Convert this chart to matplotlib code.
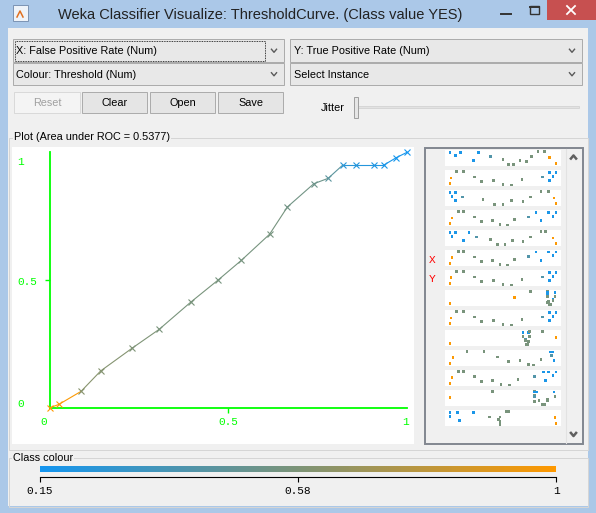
import numpy as np
import matplotlib
matplotlib.use("Agg")
import matplotlib.pyplot as plt
from matplotlib.colors import LinearSegmentedColormap, Normalize
from matplotlib.patches import Rectangle

W, H = 596, 513

# ROC curve points (x = FP rate, y = TP rate), colour = threshold
fpr = [0.0, 0.025, 0.087, 0.142, 0.231, 0.306, 0.394, 0.471, 0.536, 0.615,
       0.665, 0.739, 0.779, 0.820, 0.856, 0.908, 0.935, 0.970, 1.0]
tpr = [0.0, 0.013, 0.064, 0.144, 0.234, 0.307, 0.413, 0.500, 0.577, 0.679,
       0.786, 0.877, 0.898, 0.950, 0.950, 0.950, 0.950, 0.979, 1.0]
threshold = [1.0, 0.99, 0.61, 0.60, 0.58, 0.56, 0.56, 0.55, 0.55, 0.55,
             0.53, 0.51, 0.44, 0.24, 0.22, 0.20, 0.18, 0.16, 0.15]

tick_vals = [0, 0.5, 1]
tick_text = ["0", "0.5", "1"]

cbar_ticks = [0.15, 0.575, 1.0]
cbar_text = ["0.15", "0.58", "1"]

# attribute strips on the right: position along strip (u), jitter (h), colour code
strip_u = [
    [0.00, 0.05, 0.10, 0.22, 0.27, 0.38, 0.50, 0.55, 0.60, 0.66, 0.72, 0.77, 0.83, 0.89, 0.94, 1.00],
    [0.06, 0.13, 0.01, 0.00, 0.23, 0.30, 0.41, 0.50, 0.58, 0.68, 0.87, 0.94, 1.00, 0.97, 0.94],
    [0.00, 0.05, 0.02, 0.05, 0.12, 0.31, 0.42, 0.50, 0.58, 0.69, 0.76, 0.86, 0.93, 0.98, 1.00],
    [0.08, 0.13, 0.02, 0.00, 0.23, 0.30, 0.40, 0.47, 0.54, 0.61, 0.74, 0.81, 0.86, 0.93, 0.97, 1.00],
    [0.00, 0.05, 0.18, 0.02, 0.13, 0.25, 0.38, 0.45, 0.52, 0.59, 0.69, 0.76, 0.86, 0.90, 0.97, 1.00],
    [0.08, 0.13, 0.02, 0.00, 0.23, 0.30, 0.40, 0.47, 0.54, 0.61, 0.74, 0.81, 0.86, 0.93, 0.97, 1.00],
    [0.06, 0.13, 0.01, 0.00, 0.23, 0.30, 0.41, 0.50, 0.58, 0.68, 0.87, 0.94, 1.00, 0.97, 0.94],
    [0.00, 0.61, 0.76, 0.92, 0.92, 0.99, 0.92, 0.99, 0.92, 0.97, 0.97, 0.93, 0.92, 0.94, 0.95],
    [0.06, 0.13, 0.01, 0.00, 0.23, 0.30, 0.41, 0.50, 0.58, 0.68, 0.87, 0.94, 1.00, 0.97, 0.94],
    [0.00, 1.00, 0.69, 0.74, 0.75, 0.87, 0.69, 0.75, 0.71, 0.71, 0.74, 0.73, 0.72],
    [0.16, 0.32, 0.03, 0.00, 0.45, 0.55, 0.66, 0.74, 0.79, 0.86, 0.95, 0.97, 0.96, 0.98],
    [0.08, 0.13, 0.02, 0.00, 0.23, 0.30, 0.40, 0.48, 0.56, 0.64, 0.80, 0.88, 0.90, 0.93, 0.97, 1.00],
    [0.00, 0.40, 0.80, 0.80, 0.82, 0.98, 0.80, 0.80, 0.99, 0.92, 0.84, 0.80, 0.92, 0.87, 0.89],
    [0.00, 0.07, 0.00, 0.09, 0.22, 0.37, 0.47, 0.46, 0.47, 0.47, 0.53, 0.55, 0.99, 1.00],
]
strip_h = [
    [0.12, 0.35, 0.12, 0.67, 0.12, 0.42, 0.60, 0.96, 0.92, 0.69, 0.75, 0.42, 0.04, 0.04, 0.48, 0.85],
    [0.04, 0.04, 0.50, 0.88, 0.44, 0.75, 0.67, 0.94, 0.98, 0.62, 0.44, 0.12, 0.12, 0.38, 0.69],
    [0.12, 0.12, 0.38, 0.69, 0.44, 0.62, 0.96, 0.94, 0.69, 0.75, 0.44, 0.06, 0.06, 0.50, 0.88],
    [0.06, 0.06, 0.50, 0.88, 0.44, 0.75, 0.67, 0.94, 0.98, 0.62, 0.44, 0.12, 0.67, 0.12, 0.38, 0.12],
    [0.12, 0.12, 0.12, 0.38, 0.69, 0.44, 0.62, 0.96, 0.94, 0.69, 0.75, 0.44, 0.06, 0.06, 0.50, 0.88],
    [0.04, 0.04, 0.48, 0.85, 0.44, 0.75, 0.67, 0.94, 0.98, 0.60, 0.42, 0.10, 0.67, 0.10, 0.35, 0.10],
    [0.04, 0.04, 0.48, 0.85, 0.44, 0.75, 0.67, 0.94, 0.98, 0.62, 0.44, 0.12, 0.12, 0.38, 0.69],
    [0.85, 0.48, 0.04, 0.04, 0.12, 0.12, 0.29, 0.42, 0.42, 0.60, 0.67, 0.73, 0.79, 0.92, 0.94],
    [0.04, 0.04, 0.50, 0.88, 0.44, 0.75, 0.67, 0.94, 0.98, 0.62, 0.44, 0.12, 0.12, 0.38, 0.69],
    [0.85, 0.48, 0.12, 0.12, 0.04, 0.04, 0.42, 0.42, 0.60, 0.67, 0.73, 0.92, 0.92],
    [0.04, 0.04, 0.48, 0.85, 0.44, 0.75, 0.67, 0.94, 0.98, 0.62, 0.10, 0.10, 0.35, 0.67],
    [0.04, 0.04, 0.48, 0.85, 0.42, 0.73, 0.67, 0.94, 0.98, 0.60, 0.42, 0.10, 0.67, 0.10, 0.35, 0.10],
    [0.48, 0.04, 0.04, 0.10, 0.10, 0.10, 0.35, 0.42, 0.42, 0.60, 0.67, 0.73, 0.67, 0.92, 0.96],
    [0.12, 0.12, 0.38, 0.69, 0.12, 0.44, 0.44, 0.62, 0.75, 0.94, 0.06, 0.06, 0.48, 0.88],
]
strip_c = [
    "bbbbbtggggggggoo", "ggooggggggtbbbb", "bbbbtggggggggoo", "ggooggggggtbbbbb",
    "bbbbbtggggggggoo", "ggooggggggtbbbbb", "ggooggggggtbbbb", "ooggbbbggbggggg",
    "ggooggggggtbbbb", "oobbggggtgggg", "ggooggggggbbtb", "ggooggggggtbbbbb",
    "oggbbbgtggggggg", "bbbbbgggggggoo",
]
code_level = {"b": 0.18, "t": 0.40, "g": 0.56, "o": 0.99}

cmap = LinearSegmentedColormap.from_list("weka", ["#1496f0", "#7d9478", "#ff9900"])
norm = Normalize(0.15, 1.0)

GUI = "Liberation Sans"
MONO = "Liberation Mono"

fig = plt.figure(figsize=(W / 100, H / 100), dpi=100)


def px_axes(x, y, w, h):
    return fig.add_axes([x / W, 1 - (y + h) / H, w / W, h / H])


bg = px_axes(0, 0, W, H)
bg.set_xlim(0, W)
bg.set_ylim(H, 0)
bg.axis("off")


def box(x0, y0, x1, y1, fc, ec="none", lw=0.72, **kw):
    bg.add_patch(Rectangle((x0, y0), x1 - x0, y1 - y0, facecolor=fc,
                           edgecolor=ec, linewidth=lw, **kw))


def chevron(x, y, down=True, color="#5a5a5a", lw=1.0, s=3):
    d = 1 if down else -1
    bg.plot([x - s, x, x + s], [y - d * s * 0.6, y + d * s * 0.6, y - d * s * 0.6],
            color=color, lw=lw, solid_capstyle="butt")


# window frame and title bar
box(0, 0, W, H, "#abc8e8")
box(8, 28, 588, 506, "#f0f0f0")
box(13, 5, 28, 21, "#eef3f9", "#7d95b5")
bg.plot([17, 20, 23], [17, 11, 17], color="#e07020", lw=1.1)
bg.text(260, 14.5, "Weka Classifier Visualize: ThresholdCurve. (Class value YES)",
        ha="center", va="center", fontsize=10.5, family=GUI, color="#222222")
bg.plot([501, 511], [14, 14], color="#333333", lw=1.4)
box(530, 6, 539, 14, "none", "#333333", lw=1.0)
bg.plot([530, 539], [7, 7], color="#333333", lw=1.4)
box(547, 0, 596, 20, "#c75050")
bg.plot([567, 575], [6, 14], color="white", lw=1.3)
bg.plot([567, 575], [14, 6], color="white", lw=1.3)

# combo boxes
combos = [(13, 39, 284, 62, "X: False Positive Rate (Num)"),
          (290, 39, 582, 62, "Y: True Positive Rate (Num)"),
          (13, 63, 284, 85, "Colour: Threshold (Num)"),
          (290, 63, 582, 85, "Select Instance")]
for x0, y0, x1, y1, label in combos:
    box(x0, y0, x1, y1, "#e8e8e8", "#acacac")
    bg.text(x0 + 3.5, (y0 + y1) / 2 + 0.5, label, ha="left", va="center",
            fontsize=7.8, family=GUI, color="black")
    chevron(x1 - 10, (y0 + y1) / 2)
box(14.5, 40.5, 265, 60.5, "none", "black", lw=0.6, linestyle=(0, (1, 1)))

# buttons
buttons = [(14, 80, "Reset", True), (82, 147, "Clear", False),
           (150, 215, "Open", False), (218, 283, "Save", False)]
for x0, x1, label, disabled in buttons:
    if disabled:
        box(x0, 92, x1, 112.5, "#f4f4f4", "#d9d9d9")
    else:
        box(x0, 92, x1, 112.5, "#e5e5e5", "#acacac")
    bg.text((x0 + x1) / 2, 102.5, label, ha="center", va="center", fontsize=7.8,
            family=GUI, color="#a0a0a0" if disabled else "black")

# jitter slider
bg.text(321, 108, "Jitter", ha="left", va="center", fontsize=7.8, family=GUI, color="black")
box(358, 106, 579, 108, "#e2e2e2", "#cfcfcf", lw=0.5)
box(353.5, 97, 358, 117.5, "#e6e6e6", "#a0a0a0")

# group boxes
box(8.5, 137.5, 587.5, 449.5, "none", "#d5d5d5")
bg.text(14, 137.5, "Plot (Area under ROC = 0.5377)", ha="left", va="center",
        fontsize=7.8, family=GUI, color="black",
        bbox=dict(facecolor="#f0f0f0", edgecolor="none", pad=0.6))
box(8.5, 458, 587.5, 507, "none", "#d5d5d5")
bg.text(13, 458, "Class colour", ha="left", va="center", fontsize=7.8, family=GUI,
        color="black", bbox=dict(facecolor="#f0f0f0", edgecolor="none", pad=0.6))

# strip panel container and scroll bar
box(424.5, 147.5, 582.5, 443.5, "#f0f0f0", "#828790", lw=1.4)
bg.plot([565.5, 565.5], [148.5, 442.5], color="#e2e2e2", lw=0.8)
chevron(573.5, 157.5, down=False, color="#606060", lw=1.8, s=3.4)
chevron(573.5, 434, down=True, color="#606060", lw=1.8, s=3.4)
bg.text(432.5, 260, "X", ha="center", va="center", fontsize=8, family=MONO, color="red")
bg.text(432.5, 279.5, "Y", ha="center", va="center", fontsize=8, family=MONO, color="red")

# main ROC plot
ax = px_axes(12, 147, 402, 297)
ax.set_facecolor("white")
ax.set_xlim(-(50 - 12) / 357, 1 + (414 - 407) / 357)
ax.set_ylim(-(444 - 407.7) / 255.4, 1 + (152.3 - 147) / 255.4)
for side in ["top", "right"]:
    ax.spines[side].set_visible(False)
for side in ["left", "bottom"]:
    ax.spines[side].set_position(("data", 0))
    ax.spines[side].set_bounds(0, 1)
    ax.spines[side].set_color("#00ff00")
    ax.spines[side].set_linewidth(1.3)
ax.set_xticks([0.5])
ax.set_yticks([0.5])
ax.tick_params(colors="#00ff00", length=3.5, width=1.0,
               labelbottom=False, labelleft=False)

point_colors = [cmap(norm(t)) for t in threshold]
for i in range(len(fpr) - 1):
    ax.plot(fpr[i:i + 2], tpr[i:i + 2], color=point_colors[i], lw=0.8,
            clip_on=False, zorder=3)
for x, y, c in zip(fpr, tpr, point_colors):
    ax.plot(x, y, marker="x", color=c, ms=4.5, mew=0.8, clip_on=False, zorder=4)

x_label_dx = [-6.7, 0, -1]
y_label_dy = [3.7, -2, -9.4]
for v, s, dx in zip(tick_vals, tick_text, x_label_dx):
    ax.annotate(s, xy=(v, 0), xytext=(dx, -14), textcoords="offset pixels",
                ha="center", va="center", fontsize=8, family=MONO, color="#00ff00")
for v, s, dy in zip(tick_vals, tick_text, y_label_dy):
    ax.annotate(s, xy=(0, v), xytext=(-33, dy), textcoords="offset pixels",
                ha="left", va="center", fontsize=8, family=MONO, color="#00ff00")

# attribute strips
for k in range(len(strip_u)):
    sa = px_axes(445, 150 + 20 * k, 116, 16)
    sa.set_facecolor("white")
    sa.set_xlim(-5 / 106, 1 + 5 / 106)
    sa.set_ylim(1.04, -0.04)
    sa.set_xticks([])
    sa.set_yticks([])
    for sp in sa.spines.values():
        sp.set_visible(False)
    cols = [cmap(norm(code_level[ch])) for ch in strip_c[k]]
    sa.scatter(strip_u[k], strip_h[k], c=cols, marker="s", s=3.6, linewidths=0,
               antialiased=False, clip_on=False)

# colour legend
cax = px_axes(40, 466, 516, 32)
cax.set_xlim(0.15, 1.0)
cax.set_ylim(32, 0)
cax.axis("off")
grad = np.linspace(0.15, 1.0, 512)[None, :]
cax.imshow(grad, cmap=cmap, norm=norm, extent=(0.15, 1.0, 6.5, 0.5), aspect="auto")
cax.plot([0.15, 1.0], [11, 11], color="black", lw=0.8, clip_on=False)
cax.vlines(cbar_ticks, 11, 16, color="black", lw=0.8, clip_on=False)
for v, s in zip(cbar_ticks, cbar_text):
    cax.text(v, 24.5, s, ha="center", va="center", fontsize=8, family=MONO, color="black")

fig.savefig("out.png", dpi=100)
